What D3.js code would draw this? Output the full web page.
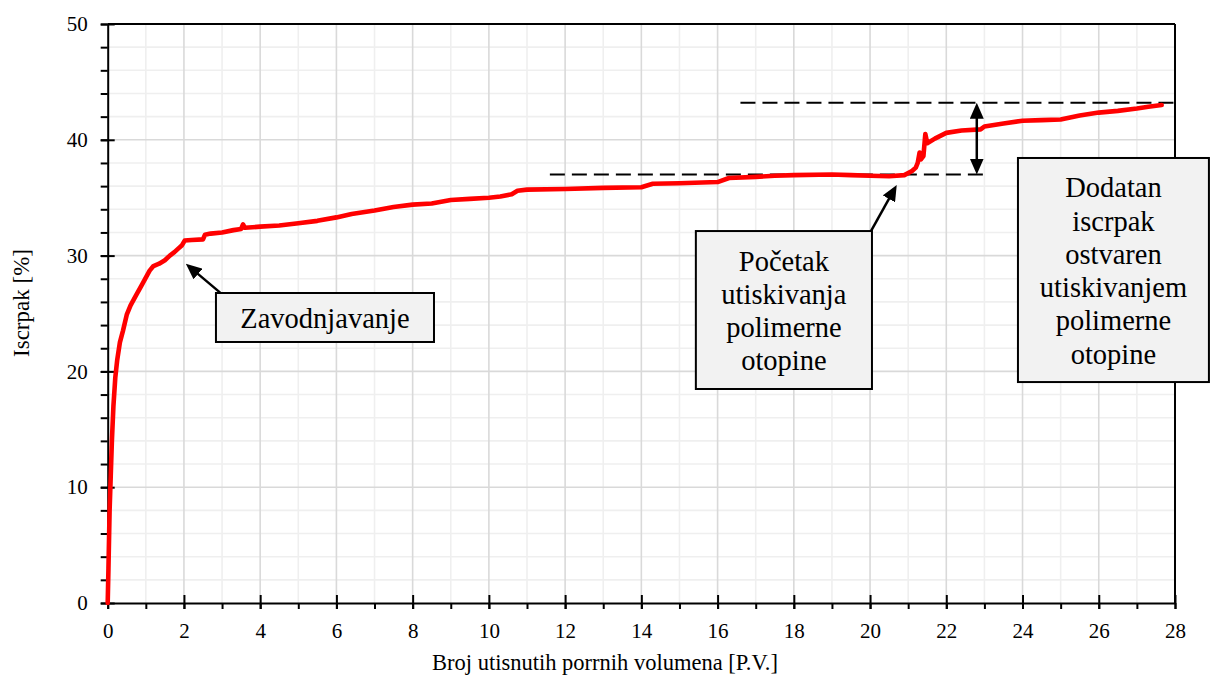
<!DOCTYPE html>
<html>
<head>
<meta charset="utf-8">
<script src="https://cdn.jsdelivr.net/npm/d3@7"></script>
<style>
  body { margin: 0; background: #fff; }
  svg { display: block; }
  text { font-family: "Liberation Serif", "Times New Roman", serif; fill: #000; }
</style>
</head>
<body>
<svg id="chart" width="1212" height="682"></svg>
<script>
// Injected pore volumes [P.V.]
const poreVolumes = [
  0, 0.02, 0.05, 0.08, 0.11, 0.15, 0.2, 0.25, 0.32, 0.4, 0.5, 0.6, 0.75, 0.9, 1.0,
  1.1, 1.2, 1.35, 1.5, 1.63, 1.75, 1.85, 1.95, 2.02, 2.2, 2.5, 2.55, 2.7, 3.0, 3.3,
  3.5, 3.55, 3.6, 4.0, 4.5, 5.0, 5.5, 6.0, 6.4, 7.0, 7.5, 8.0, 8.5, 9.0, 9.5, 10.0,
  10.3, 10.6, 10.75, 11.0, 12.0, 13.0, 14.0, 14.3, 15.0, 16.0, 16.3, 17.0, 17.5,
  18.0, 19.0, 19.5, 20.0, 20.5, 20.9, 21.1, 21.2, 21.25, 21.3, 21.33, 21.4, 21.45,
  21.5, 21.7, 22.0, 22.4, 22.9, 23.0, 23.5, 24.0, 24.5, 25.0, 25.5, 26.0, 26.5,
  27.0, 27.3, 27.65
];
// Recovery factor [%]
const recovery = [
  0, 3, 8, 11, 14, 17, 19.5, 21, 22.5, 23.5, 24.9, 25.7, 26.6, 27.5, 28.1,
  28.7, 29.1, 29.3, 29.6, 30.0, 30.3, 30.6, 30.9, 31.3, 31.35, 31.4, 31.8, 31.9, 32.0, 32.2,
  32.3, 32.7, 32.4, 32.5, 32.6, 32.8, 33.0, 33.3, 33.6, 33.9, 34.2, 34.4, 34.5, 34.8, 34.9, 35.0,
  35.1, 35.3, 35.6, 35.7, 35.75, 35.85, 35.9, 36.2, 36.25, 36.35, 36.7, 36.8, 36.9,
  36.95, 37.0, 36.95, 36.9, 36.85, 36.95, 37.3, 37.6, 38.0, 38.9, 38.3, 38.6, 40.5,
  39.7, 40.1, 40.6, 40.8, 40.9, 41.15, 41.4, 41.65, 41.7, 41.75, 42.1, 42.35, 42.5,
  42.7, 42.85, 43.0
];

const xTickValues = [0, 2, 4, 6, 8, 10, 12, 14, 16, 18, 20, 22, 24, 26, 28];
const yTickValues = [0, 10, 20, 30, 40, 50];
const xTitle = "Broj utisnutih porrnih volumena [P.V.]";
const yTitle = "Iscrpak [%]";

// Recovery before polymer injection and final recovery
const levelBefore = 37.0;
const levelAfter = 43.2;

const svg = d3.select("#chart");
const W = 1212, H = 682;
svg.append("rect").attr("width", W).attr("height", H).attr("fill", "#fff");

const plotLeft = 107.7, plotRight = 1175, plotTop = 24, plotBottom = 603;
const x = d3.scaleLinear().domain([0, 28]).range([plotLeft, plotRight]);
const y = d3.scaleLinear().domain([0, 50]).range([plotBottom, plotTop]);

// grid: minor first, major on top
const grid = svg.append("g");
grid.selectAll("line.vmin").data(d3.range(1, 28, 2)).join("line")
  .attr("x1", d => x(d)).attr("x2", d => x(d)).attr("y1", plotTop).attr("y2", plotBottom)
  .attr("stroke", "#efefef").attr("stroke-width", 1.6);
grid.selectAll("line.hmin").data(d3.range(2, 50, 2).filter(v => v % 10 !== 0)).join("line")
  .attr("y1", d => y(d)).attr("y2", d => y(d)).attr("x1", plotLeft).attr("x2", plotRight)
  .attr("stroke", "#efefef").attr("stroke-width", 1.6);
grid.selectAll("line.vmaj").data(xTickValues.slice(1, -1)).join("line")
  .attr("x1", d => x(d)).attr("x2", d => x(d)).attr("y1", plotTop).attr("y2", plotBottom)
  .attr("stroke", "#d9d9d9").attr("stroke-width", 1.6);
grid.selectAll("line.hmaj").data(yTickValues.slice(1, -1)).join("line")
  .attr("y1", d => y(d)).attr("y2", d => y(d)).attr("x1", plotLeft).attr("x2", plotRight)
  .attr("stroke", "#d9d9d9").attr("stroke-width", 1.6);

// frame: top and right edges
svg.append("line").attr("x1", plotLeft).attr("x2", plotRight).attr("y1", plotTop).attr("y2", plotTop)
  .attr("stroke", "#000").attr("stroke-width", 2);
svg.append("line").attr("x1", plotRight).attr("x2", plotRight).attr("y1", plotTop).attr("y2", plotBottom)
  .attr("stroke", "#000").attr("stroke-width", 2);

function styleAxis(g) {
  g.selectAll("path.domain").attr("stroke", "#000").attr("stroke-width", 2);
  g.selectAll(".tick line").attr("stroke", "#000").attr("stroke-width", 2);
  g.selectAll("text").attr("font-size", 21).attr("fill", "#000");
}

// x axis: minor ticks, major ticks with labels, inward part of major ticks
svg.append("g").attr("transform", `translate(0,${plotBottom})`)
  .call(d3.axisBottom(x).tickValues(d3.range(0, 29, 1)).tickSize(6).tickFormat("").tickSizeOuter(0))
  .call(styleAxis);
svg.append("g").attr("transform", `translate(0,${plotBottom})`)
  .call(d3.axisBottom(x).tickValues(xTickValues).tickSize(6).tickPadding(14).tickSizeOuter(0).tickFormat(d3.format("d")))
  .call(styleAxis)
  .call(g => g.select("path.domain").remove());
svg.append("g").attr("transform", `translate(0,${plotBottom})`)
  .call(d3.axisTop(x).tickValues(xTickValues).tickSize(8).tickFormat(""))
  .call(styleAxis)
  .call(g => g.select("path.domain").remove());

// y axis
svg.append("g").attr("transform", `translate(${plotLeft},0)`)
  .call(d3.axisLeft(y).tickValues(d3.range(0, 51, 2)).tickSize(7).tickFormat("").tickSizeOuter(0))
  .call(styleAxis);
svg.append("g").attr("transform", `translate(${plotLeft},0)`)
  .call(d3.axisLeft(y).tickValues(yTickValues).tickSize(7).tickPadding(13).tickFormat(d3.format("d")))
  .call(styleAxis)
  .call(g => g.select("path.domain").remove());
svg.append("g").attr("transform", `translate(${plotLeft},0)`)
  .call(d3.axisRight(y).tickValues(yTickValues).tickSize(7).tickFormat(""))
  .call(styleAxis)
  .call(g => g.select("path.domain").remove());

// axis titles
svg.append("text").attr("x", 605).attr("y", 670).attr("text-anchor", "middle")
  .attr("font-size", 22.5).text(xTitle);
svg.append("text").attr("transform", "translate(29,303) rotate(-90)").attr("text-anchor", "middle")
  .attr("font-size", 23).text(yTitle);

// dashed reference levels
const dash = "15,7";
svg.append("line").attr("x1", x(11.6)).attr("x2", x(23.05)).attr("y1", y(levelBefore)).attr("y2", y(levelBefore))
  .attr("stroke", "#000").attr("stroke-width", 2).attr("stroke-dasharray", dash);
svg.append("line").attr("x1", x(16.6)).attr("x2", x(28.08)).attr("y1", y(levelAfter)).attr("y2", y(levelAfter))
  .attr("stroke", "#000").attr("stroke-width", 2).attr("stroke-dasharray", dash);

// recovery curve
const pts = poreVolumes.map((v, i) => [v, recovery[i]]);
svg.append("path").datum(pts)
  .attr("d", d3.line().x(d => x(d[0])).y(d => y(d[1])))
  .attr("fill", "none").attr("stroke", "#ff0000").attr("stroke-width", 4.6)
  .attr("stroke-linejoin", "round").attr("stroke-linecap", "round");

// arrowhead marker
const defs = svg.append("defs");
defs.append("marker").attr("id", "head")
  .attr("viewBox", "0 0 16 14").attr("refX", 8).attr("refY", 7)
  .attr("markerWidth", 16).attr("markerHeight", 14)
  .attr("markerUnits", "userSpaceOnUse").attr("orient", "auto-start-reverse")
  .append("path").attr("d", "M0,0 L16,7 L0,14 Z").attr("fill", "#000");

function arrow(x1, y1, x2, y2, both) {
  const dx = x2 - x1, dy = y2 - y1, len = Math.hypot(dx, dy);
  const ux = dx / len, uy = dy / len;
  const sx = both ? x1 + ux * 8 : x1, sy = both ? y1 + uy * 8 : y1;
  const l = svg.append("line")
    .attr("x1", sx).attr("y1", sy)
    .attr("x2", x2 - ux * 8).attr("y2", y2 - uy * 8)
    .attr("stroke", "#000").attr("stroke-width", 2.5)
    .attr("marker-end", "url(#head)");
  if (both) l.attr("marker-start", "url(#head)");
}

// vertical gain arrow
arrow(x(22.8), y(levelBefore), x(22.8), y(levelAfter), true);

// callout boxes (data coordinates: x0, x1, yTop, yBottom)
const callouts = [
  { lines: ["Zavodnjavanje"], box: [2.84, 8.56, 26.77, 22.54], from: [2.95, 26.8], to: [2.05, 29.3] },
  { lines: ["Početak", "utiskivanja", "polimerne", "otopine"], box: [15.43, 20.05, 32.12, 18.48], from: [20.02, 32.1], to: [20.7, 36.1] },
  { lines: ["Dodatan", "iscrpak", "ostvaren", "utiskivanjem", "polimerne", "otopine"], box: [23.88, 28.89, 38.43, 19.08] }
];
const fs = 28.5, lh = 33.3;
callouts.forEach(c => {
  if (c.from) arrow(x(c.from[0]), y(c.from[1]), x(c.to[0]), y(c.to[1]), false);
  const bx0 = x(c.box[0]), bx1 = x(c.box[1]), by0 = y(c.box[2]), by1 = y(c.box[3]);
  svg.append("rect").attr("x", bx0).attr("y", by0).attr("width", bx1 - bx0).attr("height", by1 - by0)
    .attr("fill", "#f2f2f2").attr("stroke", "#000").attr("stroke-width", 2);
  const cx = (bx0 + bx1) / 2, cy = (by0 + by1) / 2;
  const first = cy - (c.lines.length - 1) / 2 * lh + 10.5;
  const t = svg.append("text").attr("text-anchor", "middle").attr("font-size", fs);
  c.lines.forEach((s, i) => t.append("tspan").attr("x", cx).attr("y", first + i * lh).text(s));
});
</script>
</body>
</html>
